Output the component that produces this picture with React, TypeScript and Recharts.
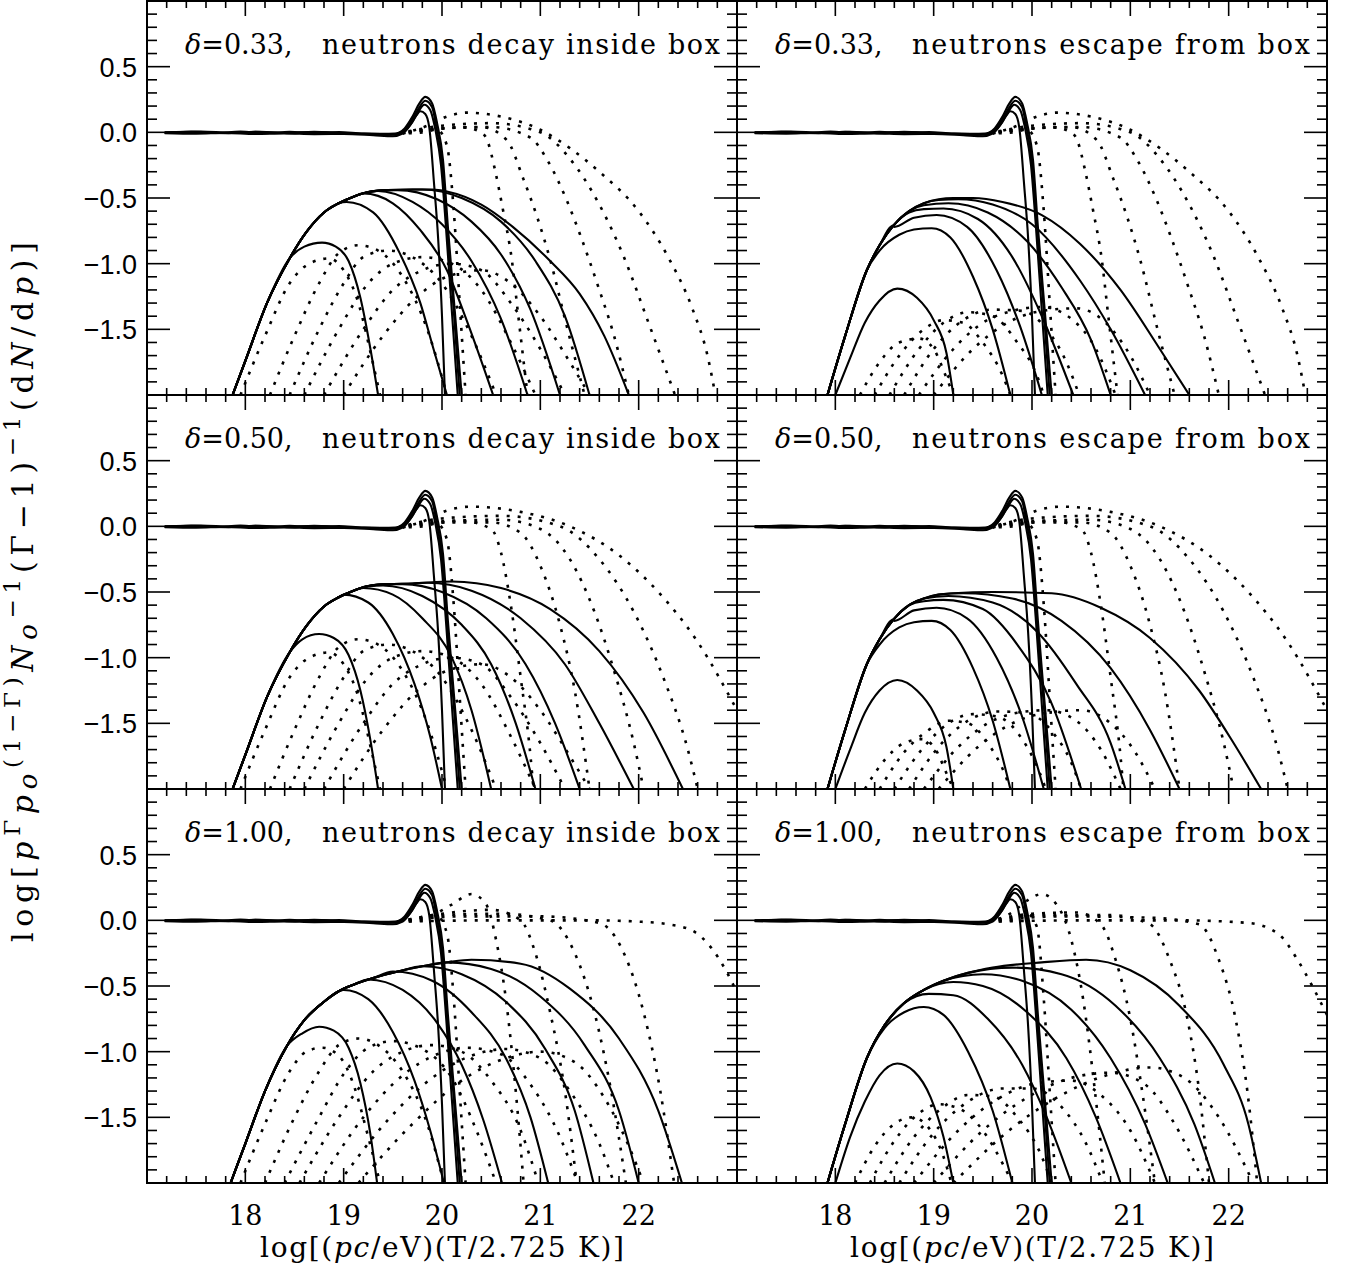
import React from "react";
import { LineChart, Line, XAxis, YAxis, ReferenceArea } from "recharts";

type Pt = [number, number];

// axis ticks
const xTicks = [17.2, 17.4, 17.6, 17.8, 18, 18.2, 18.4, 18.6, 18.8, 19, 19.2, 19.4, 19.6, 19.8, 20, 20.2, 20.4, 20.6, 20.8, 21, 21.2, 21.4, 21.6, 21.8, 22, 22.2, 22.4, 22.6, 22.8];
const xMajor = [18, 19, 20, 21, 22];
const yTicks = [-1.9, -1.8, -1.7, -1.6, -1.5, -1.4, -1.3, -1.2, -1.1, -1, -0.9, -0.8, -0.7, -0.6, -0.5, -0.4, -0.3, -0.2, -0.1, 0, 0.1, 0.2, 0.3, 0.4, 0.5, 0.6, 0.7, 0.8, 0.9];
const yMajor = [-1.5, -1, -0.5, 0, 0.5];
const yLabels: Record<string, string> = { "-1.5": "\u22121.5", "-1": "\u22121.0", "-0.5": "\u22120.5", "0": "0.0", "0.5": "0.5" };

const deltas = ["0.33", "0.50", "1.00"];

// near-zero solid curves (same in all panels)
const bumpSolid: Pt[][] = [
  [[17.18, 0.0], [17.45, 0.005], [17.7, -0.004], [17.95, 0.006], [18.2, -0.006], [18.45, 0.004], [18.7, -0.008], [18.95, 0.003], [19.2, -0.01], [19.4, -0.012], [19.52, -0.01], [19.62, 0.03], [19.7, 0.12], [19.77, 0.22], [19.83, 0.27], [19.9, 0.22], [19.95, 0.07], [20.01, -0.21], [20.06, -0.72], [20.13, -1.36], [20.2, -2]],
  [[17.18, -0.004], [17.5, 0.004], [17.8, -0.006], [18.1, 0.005], [18.4, -0.005], [18.7, 0.004], [19.0, -0.008], [19.3, -0.012], [19.5, -0.015], [19.62, 0.02], [19.7, 0.1], [19.77, 0.19], [19.83, 0.24], [19.9, 0.19], [19.94, 0.05], [20.0, -0.23], [20.05, -0.72], [20.12, -1.36], [20.18, -2]],
  [[17.18, -0.002], [17.55, 0.006], [17.85, -0.003], [18.15, 0.004], [18.45, -0.007], [18.75, 0.002], [19.05, -0.009], [19.35, -0.014], [19.5, -0.018], [19.62, 0.01], [19.7, 0.08], [19.77, 0.17], [19.82, 0.21], [19.88, 0.17], [19.93, 0.03], [19.99, -0.25], [20.04, -0.72], [20.1, -1.36], [20.16, -2]],
  [[17.18, -0.006], [17.5, -0.01], [17.8, -0.004], [18.1, -0.012], [18.4, -0.008], [18.7, -0.014], [19.0, -0.012], [19.3, -0.022], [19.5, -0.03], [19.6, -0.01], [19.68, 0.06], [19.74, 0.13], [19.78, 0.16], [19.83, 0.14], [19.87, 0.04], [19.92, -0.4], [19.96, -0.8], [20.0, -1.4], [20.03, -2]],
];

// rising edge shared by the lower solid curves in each panel
const tlRise: Pt[] = [[17.87, -2], [18.0, -1.74], [18.22, -1.3], [18.45, -0.96], [18.62, -0.76], [18.8, -0.61], [18.95, -0.54], [19.1, -0.49], [19.25, -0.455], [19.45, -0.44], [19.7, -0.435]];
const trRise: Pt[] = [[17.92, -2], [18.1, -1.55], [18.32, -1.05], [18.45, -0.86], [18.59, -0.71], [18.75, -0.6], [18.9, -0.54], [19.05, -0.51], [19.2, -0.5], [19.4, -0.5]];
const mrRise: Pt[] = [[17.92, -2], [18.1, -1.55], [18.32, -1.05], [18.45, -0.86], [18.59, -0.71], [18.75, -0.6], [18.9, -0.55], [19.05, -0.52], [19.2, -0.51], [19.4, -0.505]];
const blRise: Pt[] = [[17.85, -2], [18.0, -1.7], [18.2, -1.3], [18.42, -0.96], [18.6, -0.76], [18.8, -0.62], [18.95, -0.54], [19.1, -0.49], [19.3, -0.44], [19.55, -0.39], [19.8, -0.35], [20.05, -0.32], [20.3, -0.3]];
const brRise: Pt[] = [[17.92, -2], [18.1, -1.55], [18.32, -1.05], [18.5, -0.8], [18.7, -0.63], [18.9, -0.53], [19.1, -0.46], [19.35, -0.4], [19.6, -0.36], [19.9, -0.33], [20.2, -0.31], [20.5, -0.3]];

// falling parts of the lower solid curves
const tlSolidTails: Pt[][] = [
  [[18.6, -0.87], [18.78, -0.84], [18.92, -0.87], [19.05, -0.98], [19.17, -1.26], [19.27, -1.64], [19.35, -2]],
  [[19.03, -0.53], [19.3, -0.61], [19.57, -0.92], [19.78, -1.3], [19.91, -1.64], [20.05, -2]],
  [[19.2, -0.465], [19.5, -0.54], [19.78, -0.745], [20.05, -1.05], [20.25, -1.43], [20.52, -2]],
  [[19.35, -0.447], [19.7, -0.53], [20.0, -0.7], [20.3, -0.98], [20.6, -1.42], [20.87, -2]],
  [[19.55, -0.44], [19.95, -0.51], [20.3, -0.68], [20.6, -0.93], [20.9, -1.35], [21.2, -2]],
  [[19.8, -0.435], [20.2, -0.5], [20.6, -0.68], [20.95, -0.98], [21.25, -1.4], [21.5, -2]],
  [[19.9, -0.435], [20.05, -0.45], [20.4, -0.55], [20.72, -0.72], [21.1, -0.98], [21.4, -1.23], [21.65, -1.55], [21.9, -2]],
];
const trSolidTails: Pt[][] = [
  [[18.45, -0.9], [18.65, -0.78], [18.8, -0.74], [18.98, -0.73], [19.17, -0.8], [19.4, -1.1], [19.6, -1.5], [19.78, -2]],
  [[18.6, -0.72], [18.8, -0.65], [19.03, -0.63], [19.34, -0.72], [19.64, -1.05], [19.88, -1.48], [20.1, -2]],
  [[18.75, -0.61], [18.9, -0.585], [19.1, -0.58], [19.45, -0.66], [19.8, -0.95], [20.1, -1.4], [20.42, -2]],
  [[18.9, -0.555], [19.15, -0.54], [19.55, -0.61], [19.95, -0.83], [20.3, -1.18], [20.6, -1.58], [20.8, -2]],
  [[19.05, -0.515], [19.25, -0.51], [19.6, -0.55], [20.0, -0.7], [20.49, -1.13], [20.8, -1.5], [21.15, -2]],
  [[19.2, -0.5], [19.4, -0.5], [19.7, -0.53], [20.1, -0.63], [20.49, -0.85], [20.9, -1.2], [21.3, -1.65], [21.6, -2]],
];
const trSolidLowest: Pt[] = [[18.0, -2], [18.15, -1.72], [18.3, -1.45], [18.45, -1.28], [18.63, -1.19], [18.83, -1.26], [19.0, -1.43], [19.13, -1.68], [19.2, -2]];
const mlSolidTails: Pt[][] = [
  [[18.58, -0.86], [18.75, -0.82], [18.9, -0.85], [19.05, -0.98], [19.17, -1.25], [19.27, -1.62], [19.35, -2]],
  [[19.0, -0.52], [19.25, -0.58], [19.5, -0.82], [19.72, -1.2], [19.88, -1.6], [20.0, -2]],
  [[19.2, -0.47], [19.5, -0.52], [19.8, -0.7], [20.1, -1.0], [20.3, -1.4], [20.5, -2]],
  [[19.4, -0.45], [19.8, -0.53], [20.2, -0.75], [20.5, -1.05], [20.75, -1.5], [20.95, -2]],
  [[19.6, -0.44], [20.0, -0.5], [20.45, -0.7], [20.85, -1.05], [21.15, -1.5], [21.4, -2]],
  [[19.85, -0.43], [20.3, -0.49], [20.8, -0.7], [21.25, -1.05], [21.6, -1.5], [21.95, -2]],
  [[20.1, -0.42], [20.6, -0.47], [21.1, -0.63], [21.6, -0.95], [22.05, -1.42], [22.45, -2]],
];
const mrSolidTails: Pt[][] = [
  [[18.45, -0.9], [18.65, -0.77], [18.8, -0.73], [18.98, -0.72], [19.17, -0.79], [19.4, -1.08], [19.6, -1.48], [19.78, -2]],
  [[18.6, -0.72], [18.8, -0.64], [19.03, -0.62], [19.34, -0.7], [19.64, -1.0], [19.9, -1.45], [20.12, -2]],
  [[18.75, -0.6], [18.9, -0.57], [19.1, -0.56], [19.5, -0.63], [19.85, -0.9], [20.2, -1.35], [20.5, -2]],
  [[18.9, -0.55], [19.15, -0.53], [19.6, -0.58], [20.05, -0.8], [20.45, -1.2], [20.8, -1.65], [20.95, -2]],
  [[19.05, -0.52], [19.3, -0.51], [19.8, -0.55], [20.3, -0.72], [20.8, -1.08], [21.2, -1.55], [21.5, -2]],
  [[19.2, -0.51], [19.6, -0.5], [20.2, -0.51], [20.7, -0.62], [21.2, -0.85], [21.7, -1.25], [22.05, -1.65], [22.33, -2]],
];
const mrSolidLowest: Pt[] = [[18.0, -2], [18.15, -1.7], [18.3, -1.42], [18.45, -1.25], [18.63, -1.17], [18.83, -1.25], [19.0, -1.42], [19.13, -1.68], [19.2, -2]];
const blSolidTails: Pt[][] = [
  [[18.58, -0.86], [18.75, -0.81], [18.9, -0.84], [19.05, -0.97], [19.17, -1.24], [19.27, -1.62], [19.34, -2]],
  [[19.0, -0.53], [19.25, -0.6], [19.5, -0.85], [19.72, -1.22], [19.88, -1.6], [20.02, -2]],
  [[19.25, -0.45], [19.6, -0.53], [19.95, -0.78], [20.2, -1.1], [20.42, -1.52], [20.61, -2]],
  [[19.5, -0.39], [19.9, -0.46], [20.3, -0.7], [20.65, -1.05], [20.9, -1.5], [21.08, -2]],
  [[19.8, -0.35], [20.2, -0.41], [20.65, -0.62], [21.05, -0.98], [21.35, -1.45], [21.54, -2]],
  [[20.05, -0.32], [20.5, -0.37], [21.0, -0.58], [21.45, -0.95], [21.8, -1.45], [22.0, -2]],
  [[20.3, -0.3], [20.8, -0.33], [21.3, -0.52], [21.8, -0.9], [22.2, -1.45], [22.44, -2]],
];
const brSolidTails: Pt[][] = [
  [[18.5, -0.82], [18.7, -0.7], [18.9, -0.66], [19.1, -0.72], [19.35, -1.0], [19.6, -1.45], [19.8, -2]],
  [[18.7, -0.63], [18.95, -0.56], [19.2, -0.57], [19.55, -0.75], [19.9, -1.1], [20.15, -1.5], [20.4, -2]],
  [[18.9, -0.53], [19.2, -0.47], [19.5, -0.5], [19.95, -0.7], [20.35, -1.05], [20.65, -1.5], [20.9, -2]],
  [[19.1, -0.46], [19.5, -0.41], [19.9, -0.46], [20.4, -0.68], [20.8, -1.05], [21.15, -1.55], [21.38, -2]],
  [[19.35, -0.4], [19.8, -0.36], [20.3, -0.41], [20.85, -0.65], [21.3, -1.05], [21.65, -1.55], [21.86, -2]],
  [[19.6, -0.36], [20.1, -0.32], [20.55, -0.3], [21.0, -0.38], [21.5, -0.65], [21.95, -1.1], [22.2, -1.55], [22.33, -2]],
];
const brSolidLowest: Pt[] = [[18.0, -2], [18.15, -1.65], [18.3, -1.38], [18.45, -1.18], [18.63, -1.09], [18.8, -1.15], [18.97, -1.35], [19.1, -1.65], [19.2, -2]];

// dotted curves near zero
const tlTopDots: Pt[][] = [
  [[19.55, -0.01], [19.8, 0.0], [19.95, 0.02], [20.05, -0.1], [20.12, -0.6], [20.18, -1.3], [20.24, -2]],
  [[19.55, -0.01], [19.9, 0.02], [20.2, 0.04], [20.4, 0.0], [20.46, -0.06], [20.54, -0.29], [20.62, -0.59], [20.71, -0.97], [20.77, -1.36], [20.87, -2]],
  [[19.55, -0.01], [20.0, 0.03], [20.4, 0.04], [20.66, -0.06], [20.83, -0.36], [20.97, -0.65], [21.1, -0.97], [21.27, -1.48], [21.45, -2]],
  [[19.55, -0.01], [20.0, 0.03], [20.5, 0.04], [20.9, -0.04], [21.07, -0.21], [21.27, -0.52], [21.4, -0.77], [21.6, -1.2], [21.75, -1.55], [21.9, -2]],
  [[19.55, -0.01], [20.0, 0.05], [20.5, 0.07], [21.0, 0.0], [21.3, -0.2], [21.6, -0.55], [21.85, -0.95], [22.1, -1.45], [22.37, -2]],
  [[19.6, -0.01], [19.85, 0.05], [20.05, 0.12], [20.25, 0.15], [20.6, 0.12], [21.0, 0.02], [21.3, -0.12], [21.6, -0.3], [22.0, -0.6], [22.3, -0.95], [22.55, -1.35], [22.7, -1.7], [22.78, -2]],
];
const mlTopDots: Pt[][] = [
  [[19.55, -0.01], [19.8, 0.0], [19.95, 0.02], [20.05, -0.1], [20.12, -0.6], [20.18, -1.3], [20.24, -2]],
  [[19.55, -0.01], [19.9, 0.02], [20.2, 0.04], [20.5, -0.02], [20.6, -0.2], [20.7, -0.6], [20.8, -1.15], [20.9, -1.75], [20.93, -2]],
  [[19.55, -0.01], [20.0, 0.03], [20.5, 0.03], [20.8, -0.05], [21.0, -0.3], [21.2, -0.75], [21.35, -1.25], [21.5, -2]],
  [[19.55, -0.01], [20.0, 0.04], [20.6, 0.05], [21.0, -0.02], [21.3, -0.25], [21.55, -0.65], [21.75, -1.1], [21.95, -1.65], [22.05, -2]],
  [[19.55, -0.01], [20.0, 0.06], [20.6, 0.08], [21.2, 0.0], [21.6, -0.25], [21.95, -0.65], [22.25, -1.15], [22.5, -1.7], [22.6, -2]],
  [[19.6, -0.01], [19.85, 0.05], [20.05, 0.12], [20.3, 0.15], [20.8, 0.11], [21.3, 0.0], [21.8, -0.22], [22.2, -0.5], [22.6, -0.88], [23.0, -1.4]],
];
const blTopDots: Pt[][] = [
  [[19.55, -0.01], [19.8, 0.0], [19.95, 0.03], [20.05, -0.1], [20.12, -0.6], [20.18, -1.3], [20.24, -2]],
  [[19.55, -0.01], [19.9, 0.04], [20.1, 0.12], [20.3, 0.2], [20.45, 0.12], [20.55, -0.15], [20.65, -0.6], [20.75, -1.3], [20.83, -2]],
  [[19.55, -0.01], [20.0, 0.05], [20.5, 0.08], [20.8, 0.0], [20.95, -0.25], [21.1, -0.7], [21.25, -1.3], [21.37, -2]],
  [[19.55, -0.01], [20.0, 0.04], [20.6, 0.05], [21.1, 0.0], [21.35, -0.25], [21.55, -0.7], [21.72, -1.3], [21.87, -2]],
  [[19.55, -0.01], [20.2, 0.03], [21.0, 0.03], [21.6, -0.02], [21.85, -0.25], [22.05, -0.7], [22.22, -1.3], [22.36, -2]],
  [[19.55, -0.01], [20.5, 0.0], [21.5, 0.0], [22.0, -0.01], [22.3, -0.03], [22.55, -0.08], [22.75, -0.22], [22.9, -0.4], [23.0, -0.55]],
];
const brTopDots: Pt[][] = [
  [[19.55, -0.01], [19.8, 0.0], [19.95, 0.05], [20.05, -0.05], [20.12, -0.6], [20.18, -1.3], [20.24, -2]],
  [[19.55, -0.01], [19.8, 0.06], [19.95, 0.15], [20.1, 0.2], [20.25, 0.12], [20.4, -0.15], [20.52, -0.6], [20.64, -1.3], [20.74, -2]],
  [[19.55, -0.01], [20.0, 0.05], [20.45, 0.06], [20.7, -0.03], [20.85, -0.3], [21.0, -0.75], [21.13, -1.35], [21.25, -2]],
  [[19.55, -0.01], [20.1, 0.04], [20.8, 0.04], [21.2, -0.03], [21.4, -0.3], [21.58, -0.75], [21.7, -1.3], [21.8, -2]],
  [[19.55, -0.01], [20.3, 0.03], [21.2, 0.02], [21.7, -0.03], [21.9, -0.3], [22.07, -0.75], [22.19, -1.3], [22.29, -2]],
  [[19.55, -0.01], [20.5, 0.0], [21.5, 0.0], [22.2, -0.02], [22.5, -0.1], [22.7, -0.3], [22.85, -0.5], [23.0, -0.72]],
];

// lower dotted curves
const tlLowDots: Pt[][] = [
  [[17.95, -2], [18.2, -1.55], [18.45, -1.15], [18.65, -1.0], [18.85, -0.96], [19.0, -1.05], [19.15, -1.3], [19.28, -1.7], [19.37, -2]],
  [[18.25, -2], [18.5, -1.55], [18.75, -1.15], [18.95, -0.92], [19.15, -0.86], [19.35, -0.9], [19.6, -1.1], [19.85, -1.5], [20.05, -2]],
  [[18.45, -2], [18.75, -1.5], [19.0, -1.15], [19.2, -0.95], [19.45, -0.9], [19.7, -0.95], [20.0, -1.15], [20.3, -1.55], [20.55, -2]],
  [[18.6, -2], [18.95, -1.5], [19.25, -1.15], [19.5, -1.0], [19.8, -0.95], [20.1, -1.0], [20.4, -1.2], [20.7, -1.6], [20.95, -2]],
  [[18.8, -2], [19.2, -1.5], [19.5, -1.2], [19.8, -1.05], [20.1, -1.0], [20.4, -1.05], [20.7, -1.3], [21.0, -1.65], [21.25, -2]],
  [[19.0, -2], [19.4, -1.55], [19.75, -1.25], [20.05, -1.1], [20.4, -1.05], [20.7, -1.15], [21.0, -1.4], [21.3, -1.75], [21.5, -2]],
];
const trLowDots: Pt[][] = [
  [[18.25, -2], [18.45, -1.75], [18.65, -1.6], [18.85, -1.57], [19.0, -1.65], [19.12, -1.85], [19.2, -2]],
  [[18.4, -2], [18.65, -1.7], [18.9, -1.5], [19.1, -1.43], [19.3, -1.45], [19.5, -1.6], [19.7, -1.85], [19.78, -2]],
  [[18.55, -2], [18.85, -1.65], [19.1, -1.45], [19.35, -1.37], [19.6, -1.4], [19.85, -1.6], [20.05, -1.85], [20.12, -2]],
  [[18.7, -2], [19.0, -1.65], [19.3, -1.43], [19.6, -1.35], [19.9, -1.36], [20.15, -1.5], [20.35, -1.75], [20.48, -2]],
  [[18.85, -2], [19.2, -1.65], [19.5, -1.45], [19.8, -1.36], [20.1, -1.33], [20.4, -1.42], [20.65, -1.65], [20.85, -2]],
  [[19.0, -2], [19.4, -1.65], [19.75, -1.45], [20.1, -1.36], [20.45, -1.34], [20.75, -1.45], [21.0, -1.7], [21.2, -2]],
];
const mrLowDots: Pt[][] = [
  [[18.3, -2], [18.5, -1.78], [18.7, -1.65], [18.88, -1.62], [19.02, -1.7], [19.13, -1.88], [19.2, -2]],
  [[18.45, -2], [18.7, -1.72], [18.95, -1.55], [19.15, -1.48], [19.35, -1.5], [19.55, -1.65], [19.72, -1.88], [19.78, -2]],
  [[18.6, -2], [18.9, -1.68], [19.15, -1.5], [19.4, -1.43], [19.65, -1.45], [19.9, -1.62], [20.08, -1.88], [20.14, -2]],
  [[18.75, -2], [19.05, -1.68], [19.35, -1.48], [19.65, -1.41], [19.95, -1.42], [20.2, -1.56], [20.4, -1.8], [20.5, -2]],
  [[18.9, -2], [19.25, -1.68], [19.55, -1.5], [19.85, -1.42], [20.15, -1.4], [20.45, -1.48], [20.7, -1.7], [20.9, -2]],
  [[19.05, -2], [19.45, -1.68], [19.8, -1.5], [20.15, -1.42], [20.5, -1.4], [20.8, -1.5], [21.05, -1.72], [21.25, -2]],
];
const blLowDots: Pt[][] = [
  [[17.95, -2], [18.2, -1.55], [18.45, -1.15], [18.62, -1.0], [18.78, -0.97], [18.95, -1.03], [19.1, -1.25], [19.25, -1.65], [19.37, -2]],
  [[18.2, -2], [18.5, -1.5], [18.75, -1.15], [18.95, -0.95], [19.15, -0.9], [19.35, -0.95], [19.6, -1.15], [19.85, -1.55], [20.02, -2]],
  [[18.4, -2], [18.75, -1.5], [19.0, -1.17], [19.25, -0.97], [19.5, -0.92], [19.8, -0.98], [20.1, -1.2], [20.35, -1.6], [20.55, -2]],
  [[18.55, -2], [18.95, -1.5], [19.3, -1.15], [19.6, -1.0], [19.9, -0.95], [20.2, -1.0], [20.5, -1.22], [20.8, -1.6], [20.98, -2]],
  [[18.75, -2], [19.2, -1.5], [19.6, -1.18], [19.95, -1.02], [20.25, -0.97], [20.6, -1.02], [20.9, -1.25], [21.2, -1.65], [21.38, -2]],
  [[18.95, -2], [19.45, -1.52], [19.9, -1.2], [20.3, -1.03], [20.65, -0.98], [21.0, -1.05], [21.3, -1.3], [21.6, -1.7], [21.75, -2]],
  [[19.15, -2], [19.7, -1.55], [20.2, -1.22], [20.65, -1.05], [21.0, -1.0], [21.35, -1.08], [21.65, -1.35], [21.9, -1.72], [22.05, -2]],
];
const brLowDots: Pt[][] = [
  [[18.2, -2], [18.4, -1.72], [18.6, -1.55], [18.78, -1.5], [18.95, -1.58], [19.1, -1.8], [19.18, -2]],
  [[18.35, -2], [18.6, -1.68], [18.85, -1.47], [19.05, -1.4], [19.25, -1.43], [19.5, -1.6], [19.7, -1.85], [19.8, -2]],
  [[18.5, -2], [18.8, -1.65], [19.1, -1.42], [19.35, -1.33], [19.6, -1.34], [19.85, -1.5], [20.1, -1.8], [20.2, -2]],
  [[18.65, -2], [19.0, -1.62], [19.35, -1.38], [19.7, -1.28], [20.0, -1.28], [20.3, -1.42], [20.55, -1.7], [20.72, -2]],
  [[18.8, -2], [19.25, -1.6], [19.65, -1.36], [20.05, -1.24], [20.4, -1.22], [20.7, -1.33], [21.0, -1.6], [21.25, -2]],
  [[19.0, -2], [19.5, -1.6], [19.95, -1.35], [20.4, -1.2], [20.8, -1.16], [21.15, -1.25], [21.45, -1.55], [21.75, -2]],
  [[19.2, -2], [19.8, -1.58], [20.3, -1.33], [20.8, -1.17], [21.2, -1.12], [21.55, -1.2], [21.9, -1.5], [22.25, -2]],
];

const joinRise = (rise: Pt[], tail: Pt[]): Pt[] => [...rise.filter((p) => p[0] < tail[0][0]), ...tail];

const PW = 590;
const PH = 394;
const SERIF = "'DejaVu Serif', serif";
const SANS = "'Liberation Sans', Arial, sans-serif";

type PanelProps = {
  col: number;
  row: number;
  kind: string;
  solids: Pt[][];
  topDots: Pt[][];
  lowDots: Pt[][];
};

function Panel({ col, row, kind, solids, topDots, lowDots }: PanelProps) {
  const left = col === 0 ? 0 : 736;
  const top = row * 394;
  const mLeft = col === 0 ? 147 : 1;
  const mRight = col === 0 ? 1 : 21;
  const bottomRow = row === 2;
  const mBottom = bottomRow ? 91 : 1;
  const width = mLeft + PW + mRight;
  const height = 1 + PH + mBottom;

  const xTick = (p: any) => {
    const { x, y, payload } = p;
    const v = payload.value as number;
    const major = xMajor.includes(v);
    const len = major ? 15 : 7;
    return (
      <g>
        <line x1={x} x2={x} y1={y} y2={y - len} stroke="#000" strokeWidth={1.6} />
        <line x1={x} x2={x} y1={y - PH} y2={y - PH + len} stroke="#000" strokeWidth={1.6} />
        {bottomRow && major && (
          <text x={x} y={y + 42} textAnchor="middle" fontFamily={SERIF} fontSize={27} fill="#000">
            {v}
          </text>
        )}
      </g>
    );
  };

  const yTick = (p: any) => {
    const { x, y, payload } = p;
    const v = payload.value as number;
    const major = yMajor.includes(v);
    const len = major ? 23 : 10;
    return (
      <g>
        <line x1={x} x2={x + len} y1={y} y2={y} stroke="#000" strokeWidth={1.6} />
        <line x1={x + PW} x2={x + PW - len} y1={y} y2={y} stroke="#000" strokeWidth={1.6} />
        {col === 0 && major && (
          <text x={x - 10} y={y + 10} textAnchor="end" fontFamily={SANS} fontSize={27} fill="#000">
            {yLabels[String(v)]}
          </text>
        )}
      </g>
    );
  };

  const line = (c: Pt[], key: string, dotted: boolean) => (
    <Line
      key={key}
      data={c.map(([x, y]) => ({ x, y }))}
      dataKey="y"
      type="monotone"
      stroke="#000"
      strokeWidth={dotted ? 2.6 : 2.1}
      strokeDasharray={dotted ? "3 8" : undefined}
      dot={false}
      activeDot={false}
      isAnimationActive={false}
    />
  );

  const tx = col === 0 ? 185 : 39;
  const nx = col === 0 ? 322 : 176;

  return (
    <div style={{ position: "absolute", left, top, width, height }}>
      <LineChart width={width} height={height} margin={{ top: 1, right: mRight, bottom: mBottom - 1, left: mLeft - 1 }}>
        <XAxis
          type="number"
          dataKey="x"
          domain={[17, 23]}
          allowDataOverflow
          ticks={xTicks}
          interval={0}
          height={1}
          tickSize={0}
          tickMargin={0}
          tickLine={false}
          axisLine={false}
          tick={xTick}
        />
        <YAxis
          type="number"
          domain={[-2, 1]}
          allowDataOverflow
          ticks={yTicks}
          interval={0}
          width={1}
          tickSize={0}
          tickMargin={0}
          tickLine={false}
          axisLine={false}
          tick={yTick}
        />
        <ReferenceArea x1={17} x2={23} y1={-2} y2={1} fill="none" stroke="#000" strokeWidth={2} fillOpacity={0} />
        {bumpSolid.map((c, i) => line(c, `b${i}`, false))}
        {solids.map((c, i) => line(c, `s${i}`, false))}
        {topDots.map((c, i) => line(c, `t${i}`, true))}
        {lowDots.map((c, i) => line(c, `l${i}`, true))}
        <text x={tx} y={54} fontFamily={SERIF} fontSize={27} fill="#000">
          <tspan fontStyle="italic">δ</tspan>={deltas[row]},
        </text>
        <text x={nx} y={54} fontFamily={SERIF} fontSize={27} fill="#000" textLength={398} lengthAdjust="spacing">
          {kind}
        </text>
        {bottomRow && (
          <text x={mLeft + PW / 2} y={1 + PH + 74} textAnchor="middle" fontFamily={SERIF} fontSize={28} fill="#000" textLength={364} lengthAdjust="spacing">
            log[(<tspan fontStyle="italic">pc</tspan>/eV)(T/2.725 K)]
          </text>
        )}
      </LineChart>
    </div>
  );
}

const decay = "neutrons decay inside box";
const escape = "neutrons escape from box";

function YTitle() {
  return (
    <svg width={60} height={1274} style={{ position: "absolute", left: 0, top: 0 }}>
      <text transform="rotate(-90 33 592)" x={33} y={592} textAnchor="middle" fontFamily={SERIF} fontSize={30} fill="#000" textLength={700} lengthAdjust="spacing">
        log[<tspan fontStyle="italic">p</tspan>
        <tspan dy={-13} fontSize={23}>Γ</tspan>
        <tspan dy={13} fontStyle="italic">p</tspan>
        <tspan dy={4} fontSize={26} fontStyle="italic">o</tspan>
        <tspan dy={-17} fontSize={23}>(1−Γ)</tspan>
        <tspan dy={13} fontStyle="italic">N</tspan>
        <tspan dy={4} fontSize={26} fontStyle="italic">o</tspan>
        <tspan dy={-17} fontSize={23}>−1</tspan>
        <tspan dy={13}>(Γ−1)</tspan>
        <tspan dy={-13} fontSize={23}>−1</tspan>
        <tspan dy={13}>(d</tspan>
        <tspan fontStyle="italic">N</tspan>
        <tspan>/d</tspan>
        <tspan fontStyle="italic">p</tspan>
        <tspan>)]</tspan>
      </text>
    </svg>
  );
}

export default function App() {
  const tlSolids = tlSolidTails.map((t) => joinRise(tlRise, t));
  const trSolids = [trSolidLowest, ...trSolidTails.map((t) => joinRise(trRise, t))];
  const mlSolids = mlSolidTails.map((t) => joinRise(tlRise, t));
  const mrSolids = [mrSolidLowest, ...mrSolidTails.map((t) => joinRise(mrRise, t))];
  const blSolids = blSolidTails.map((t) => joinRise(blRise, t));
  const brSolids = [brSolidLowest, ...brSolidTails.map((t) => joinRise(brRise, t))];
  return (
    <div style={{ position: "absolute", left: 0, top: 0, width: 1348, height: 1274, background: "#fff" }}>
      <Panel col={0} row={0} kind={decay} solids={tlSolids} topDots={tlTopDots} lowDots={tlLowDots} />
      <Panel col={1} row={0} kind={escape} solids={trSolids} topDots={tlTopDots} lowDots={trLowDots} />
      <Panel col={0} row={1} kind={decay} solids={mlSolids} topDots={mlTopDots} lowDots={tlLowDots} />
      <Panel col={1} row={1} kind={escape} solids={mrSolids} topDots={mlTopDots} lowDots={mrLowDots} />
      <Panel col={0} row={2} kind={decay} solids={blSolids} topDots={blTopDots} lowDots={blLowDots} />
      <Panel col={1} row={2} kind={escape} solids={brSolids} topDots={brTopDots} lowDots={brLowDots} />
      <YTitle />
    </div>
  );
}
